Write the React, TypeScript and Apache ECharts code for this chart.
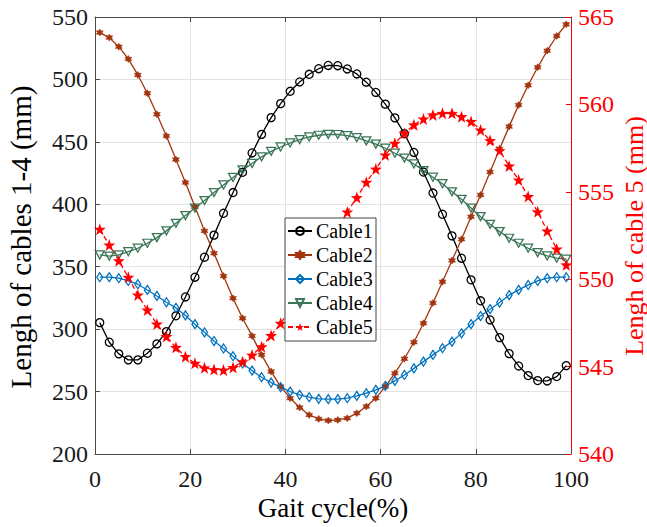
import React, { useEffect, useRef } from "react";
import * as echarts from "echarts";

const xs = [1, 3, 5, 7, 9, 11, 13, 15, 17, 19, 21, 23, 25, 27, 29, 31, 33, 35, 37, 39, 41, 43, 45, 47, 49, 51, 53, 55, 57, 59, 61, 63, 65, 67, 69, 71, 73, 75, 77, 79, 81, 83, 85, 87, 89, 91, 93, 95, 97, 99];

const cable1 = [305.2, 289.5, 280.2, 275.4, 275.4, 280.7, 288.2, 298, 310.7, 325.8, 341.6, 357.6, 375.3, 392.8, 409.4, 425.6, 441.1, 456, 469.4, 480.6, 490.5, 498, 504.1, 508.6, 511.2, 511, 508.4, 504.4, 497.8, 489.6, 480.2, 469.2, 456.6, 441.5, 425.8, 409, 392, 374.7, 356.8, 339.5, 322.7, 307.4, 293.2, 280.4, 270.5, 262.8, 258.8, 258.5, 262, 270.8];
const cable2 = [537.5, 533.5, 526.2, 516.4, 503.6, 488.9, 472.1, 454.7, 435.8, 417.4, 398, 378.7, 360.8, 342.5, 324.8, 308.7, 294.6, 279.4, 266, 254, 244.7, 237.2, 231.3, 228.1, 226.8, 227.3, 228.7, 232.7, 238, 244.7, 254, 264.7, 276.3, 289.5, 304.7, 321, 338, 355, 372, 390.1, 407.5, 425.8, 444.3, 462.2, 479.5, 495.3, 509.7, 523, 534.8, 544.1];
const cable3 = [341.6, 341.6, 340.8, 338.6, 336, 331.4, 326.6, 321.5, 317, 311, 304, 297.5, 290.5, 284.5, 278.3, 272.5, 266.8, 261.5, 257.2, 253.5, 250, 247.4, 245.5, 244.2, 243.9, 243.9, 244.7, 246.6, 248.7, 251.4, 254.6, 258.6, 263.3, 268.6, 274, 279.4, 284.7, 290, 296.7, 304, 310.5, 316, 321.3, 327.2, 331.4, 335.4, 338.6, 340.8, 341.6, 341.6];
const cable4 = [359.5, 358.5, 359.4, 362, 364.8, 368.8, 373.3, 378.7, 384.8, 391, 397, 403, 409.4, 415.5, 421.5, 427.5, 432.7, 438, 442.4, 445.9, 449.1, 451.8, 453.9, 455.3, 456, 455.9, 455, 453.3, 450.8, 448.2, 444.9, 440.9, 437, 432.3, 427, 421.7, 416.5, 410, 404, 397, 390.1, 384, 378.1, 372.8, 368.8, 364.8, 361.3, 358.6, 356.8, 356];
const cable5 = [552.86, 551.96, 551.06, 550.11, 549.1, 548.24, 547.44, 546.72, 546.1, 545.57, 545.19, 544.93, 544.83, 544.8, 544.95, 545.28, 545.66, 546.14, 546.78, 547.48, 548.25, 549.1, 550, 550.95, 551.9, 552.9, 553.85, 554.67, 555.55, 556.3, 557.11, 557.78, 558.35, 558.83, 559.17, 559.4, 559.49, 559.49, 559.3, 559.02, 558.54, 557.93, 557.36, 556.48, 555.68, 554.73, 553.86, 552.76, 551.73, 550.82];

const seriesNames = ["Cable1", "Cable2", "Cable3", "Cable4", "Cable5"];
const xTicks = [0, 20, 40, 60, 80, 100];
const leftTicks = [200, 250, 300, 350, 400, 450, 500, 550];
const rightTicks = [540, 545, 550, 555, 560, 565];

const FONT = "Liberation Serif";
const STAR = "path://M0,-10 L2.35,-3.24 L9.51,-3.09 L3.8,1.24 L5.88,8.09 L0,4 L-5.88,8.09 L-3.8,1.24 L-9.51,-3.09 L-2.35,-3.24 Z";
const HEXAGRAM = "path://M0,-10 L2.89,-5 L8.66,-5 L5.77,0 L8.66,5 L2.89,5 L0,10 L-2.89,5 L-8.66,5 L-5.77,0 L-8.66,-5 L-2.89,-5 Z";

const toPairs = (ys: number[]) => xs.map((x, i) => [x, ys[i]]);

const txt = (text: string, x: number, y: number, size: number, fill: string, align: string, rotation = 0) => ({
  type: "text",
  x,
  y,
  rotation,
  z: 20,
  style: { text, font: `${size}px ${FONT}`, fill, align, verticalAlign: "middle" },
});

export default function App() {
  const ref = useRef<HTMLDivElement>(null);
  useEffect(() => {
    document.body.style.margin = "0";
    if (!ref.current) return;
    const chart = echarts.init(ref.current, null, { renderer: "svg" });
    const axisGray = "#4a4a4a";
    const option: any = {
      animation: false,
      backgroundColor: "#ffffff",
      textStyle: { fontFamily: FONT },
      grid: { left: 95, right: 76, top: 17, bottom: 73, containLabel: false },
      legend: {
        orient: "vertical",
        left: 285,
        top: 218,
        data: seriesNames,
        backgroundColor: "transparent",
        borderWidth: 0,
        padding: [3, 4, 3, 2],
        itemGap: 4,
        itemWidth: 24,
        itemHeight: 10,
        z: 10,
        textStyle: { fontFamily: FONT, fontSize: 20, color: "rgba(0,0,0,0)" },
      },
      xAxis: [
        {
          type: "value", min: 0, max: 100, interval: 20, position: "bottom",
          axisLine: { show: true, onZero: false, lineStyle: { color: axisGray, width: 1 } },
          axisTick: { show: true, inside: true, length: 5, lineStyle: { color: axisGray } },
          axisLabel: { show: false },
          splitLine: { show: true, lineStyle: { color: "#e3e3e3", width: 1 } },
        },
        {
          type: "value", min: 0, max: 100, interval: 20, position: "top",
          axisLine: { show: true, onZero: false, lineStyle: { color: axisGray, width: 1 } },
          axisTick: { show: true, inside: true, length: 5, lineStyle: { color: axisGray } },
          axisLabel: { show: false },
          splitLine: { show: false },
        },
      ],
      yAxis: [
        {
          type: "value", min: 200, max: 550, interval: 50, position: "left",
          axisLine: { show: true, onZero: false, lineStyle: { color: axisGray, width: 1 } },
          axisTick: { show: true, inside: true, length: 5, lineStyle: { color: axisGray } },
          axisLabel: { show: false },
          splitLine: { show: true, lineStyle: { color: "#e3e3e3", width: 1 } },
        },
        {
          type: "value", min: 540, max: 565, interval: 5, position: "right",
          axisLine: { show: true, onZero: false, lineStyle: { color: "#ff0000", width: 1 } },
          axisTick: { show: true, inside: true, length: 5, lineStyle: { color: "#ff0000" } },
          axisLabel: { show: false },
          splitLine: { show: false },
        },
      ],
      series: [
        {
          name: "Cable1", type: "line", data: toPairs(cable1), symbol: "circle", symbolSize: 8,
          lineStyle: { color: "#000000", width: 1.3 },
          itemStyle: { color: "rgba(255,255,255,0)", borderColor: "#000000", borderWidth: 1.3 }, z: 3,
        },
        {
          name: "Cable2", type: "line", data: toPairs(cable2), symbol: HEXAGRAM, symbolSize: 7,
          lineStyle: { color: "#a2350f", width: 1.3 },
          itemStyle: { color: "#a2350f", borderColor: "#a2350f", borderWidth: 0.5 }, z: 3,
        },
        {
          name: "Cable3", type: "line", data: toPairs(cable3), symbol: "diamond", symbolSize: [6, 9],
          lineStyle: { color: "#0072bd", width: 1.3 },
          itemStyle: { color: "rgba(255,255,255,0)", borderColor: "#0072bd", borderWidth: 1.3 }, z: 3,
        },
        {
          name: "Cable4", type: "line", data: toPairs(cable4), symbol: "triangle", symbolRotate: 180, symbolSize: [9, 8],
          lineStyle: { color: "#3b7657", width: 1.3 },
          itemStyle: { color: "rgba(255,255,255,0)", borderColor: "#3b7657", borderWidth: 1.3 }, z: 3,
        },
        {
          name: "Cable5", type: "line", yAxisIndex: 1, data: toPairs(cable5), symbol: STAR, symbolSize: 12,
          lineStyle: { color: "#ff0000", width: 1.3, type: [5, 3] },
          itemStyle: { color: "#ff0000" }, z: 3,
        },
      ],
    };
    chart.setOption(option);

    const elements: any[] = [];
    // legend box (drawn under the legend icons, above the series)
    elements.push({
      type: "rect",
      z: 5,
      shape: { x: 285, y: 218, width: 91, height: 123 },
      style: { fill: "#ffffff", stroke: "#444444", lineWidth: 1 },
    });
    seriesNames.forEach((name, i) => {
      elements.push(txt(name, 316, 231 + i * 24, 20, "#000000", "left"));
    });
    const xAxisY = Number(chart.convertToPixel({ yAxisIndex: 0 }, 200));
    const leftX = Number(chart.convertToPixel({ xAxisIndex: 0 }, 0));
    const rightX = Number(chart.convertToPixel({ xAxisIndex: 0 }, 100));
    xTicks.forEach((v) => {
      const px = Number(chart.convertToPixel({ xAxisIndex: 0 }, v));
      elements.push(txt(String(v), px, xAxisY + 25, 24, "#1a1a1a", "center"));
    });
    leftTicks.forEach((v) => {
      const py = Number(chart.convertToPixel({ yAxisIndex: 0 }, v));
      elements.push(txt(String(v), leftX - 7, py, 24, "#1a1a1a", "right"));
    });
    rightTicks.forEach((v) => {
      const py = Number(chart.convertToPixel({ yAxisIndex: 1 }, v));
      elements.push(txt(String(v), rightX + 7, py, 24, "#ff0000", "left"));
    });
    elements.push(txt("Lengh of cables 1-4 (mm)", 21, 237, 29, "#000000", "center", Math.PI / 2));
    elements.push(txt("Lengh of cable 5 (mm)", 634, 236, 26, "#ff0000", "center", Math.PI / 2));
    elements.push(txt("Gait cycle(%)", 333, 508, 27, "#000000", "center"));
    chart.setOption({ graphic: { elements } });

    return () => chart.dispose();
  }, []);
  return <div ref={ref} style={{ position: "fixed", left: 0, top: 0, width: 647, height: 527 }} />;
}
